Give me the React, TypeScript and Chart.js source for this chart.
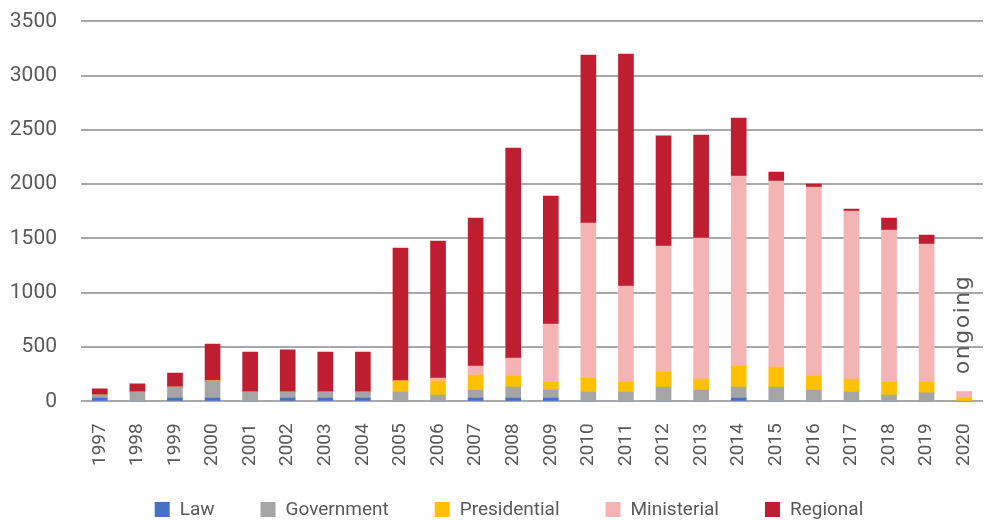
import React, { useEffect, useRef } from "react";
import { Chart, registerables } from "chart.js";

Chart.register(...registerables);

const years = ["1997","1998","1999","2000","2001","2002","2003","2004","2005","2006","2007","2008","2009","2010","2011","2012","2013","2014","2015","2016","2017","2018","2019","2020"];
const law = [30,0,30,30,0,30,30,30,0,0,30,30,30,0,0,0,0,30,0,0,0,0,0,0];
const government = [28,86,102,158,86,56,56,56,86,58,74,102,74,86,86,132,104,102,132,104,86,58,77,0];
const presidential = [0,0,0,0,0,0,0,0,102,130,138,101,74,129,92,138,101,193,184,129,119,120,101,30];
const ministerial = [0,0,0,0,0,0,0,0,0,27,83,166,534,1427,884,1160,1299,1750,1713,1741,1548,1400,1271,56];
const regional = [56,74,129,340,368,387,368,368,1224,1261,1363,1934,1179,1548,2137,1014,949,534,83,27,18,110,83,0];
const yTicks = [0, 500, 1000, 1500, 2000, 2500, 3000, 3500];
const seriesNames = ["Law", "Government", "Presidential", "Ministerial", "Regional"];
const seriesColors = ["#4472C4", "#A5A5A5", "#FFC000", "#F4B4B3", "#BE1E2F"];
const noteText = "ongoing";

const TEXT = "#595959";
const FONT = "Roboto";

export default function App() {
  const ref = useRef<HTMLCanvasElement>(null);

  useEffect(() => {
    if (!ref.current) return;
    const legendPlugin = {
      id: "customLegend",
      afterDraw(chart: any) {
        const ctx = chart.ctx as CanvasRenderingContext2D;
        ctx.save();
        ctx.font = `19px ${FONT}`;
        const items = chart.data.datasets.map((ds: any) => ({ label: ds.label, color: ds.backgroundColor }));
        const box = 15, textOff = 25, gap = 46;
        const widths = items.map((it: any) => ctx.measureText(it.label).width);
        const total = items.length * textOff + widths.reduce((a: number, b: number) => a + b, 0) + gap * (items.length - 1);
        let x = 509 - total / 2;
        const cy = 509.5;
        items.forEach((it: any, i: number) => {
          ctx.fillStyle = it.color;
          ctx.fillRect(x, cy - box / 2, box, box);
          ctx.fillStyle = TEXT;
          ctx.textBaseline = "middle";
          ctx.textAlign = "left";
          ctx.fillText(it.label, x + textOff, cy + 1);
          x += textOff + widths[i] + gap;
        });
        const xs = chart.scales.x, ys = chart.scales.y;
        const px = xs.getPixelForValue(years.length - 1) + 5;
        const py = ys.getPixelForValue(250);
        ctx.translate(px, py);
        ctx.rotate(-Math.PI / 2);
        ctx.font = `22px "DejaVu Sans"`;
        (ctx as any).letterSpacing = "1.5px";
        ctx.textBaseline = "alphabetic";
        ctx.textAlign = "left";
        ctx.fillStyle = TEXT;
        ctx.fillText(noteText, 0, 0);
        ctx.restore();
      },
    };

    const seriesData = [law, government, presidential, ministerial, regional];
    const chart = new Chart(ref.current, {
      type: "bar",
      data: {
        labels: years,
        datasets: seriesNames.map((name, i) => ({
          label: name,
          data: seriesData[i],
          backgroundColor: seriesColors[i],
          borderWidth: 0,
          barThickness: 15,
        })),
      },
      options: {
        responsive: false,
        animation: false,
        layout: { padding: { top: 21.3, left: 0, right: 0, bottom: 0 } },
        plugins: {
          legend: { display: false },
          tooltip: { enabled: false },
        },
        scales: {
          x: {
            stacked: true,
            grid: { display: false, drawTicks: false },
            border: { display: false },
            ticks: {
              autoSkip: false,
              minRotation: 90,
              maxRotation: 90,
              padding: 22,
              color: TEXT,
              font: { family: FONT, size: 19 },
            },
            afterFit: (scale: any) => { scale.height = 118.7; },
          },
          y: {
            stacked: true,
            min: 0,
            max: 3500,
            afterBuildTicks: (scale: any) => { scale.ticks = yTicks.map((v) => ({ value: v })); },
            grid: { color: "#A8A8AA", lineWidth: 2, drawTicks: true, tickLength: 16, tickColor: "rgba(0,0,0,0)" },
            border: { display: false },
            ticks: {
              padding: 8,
              color: TEXT,
              font: { family: FONT, size: 21 },
              callback: (v: any) => String(v),
            },
            afterFit: (scale: any) => { scale.width = 81; },
          },
        },
      },
      plugins: [legendPlugin],
    });
    return () => chart.destroy();
  }, []);

  return (
    <div style={{ position: "fixed", left: 0, top: 0, width: 1001, height: 520, overflow: "hidden", background: "#fff" }}>
      <canvas ref={ref} width={1009} height={520} style={{ display: "block", width: 1009, height: 520 }} />
    </div>
  );
}
